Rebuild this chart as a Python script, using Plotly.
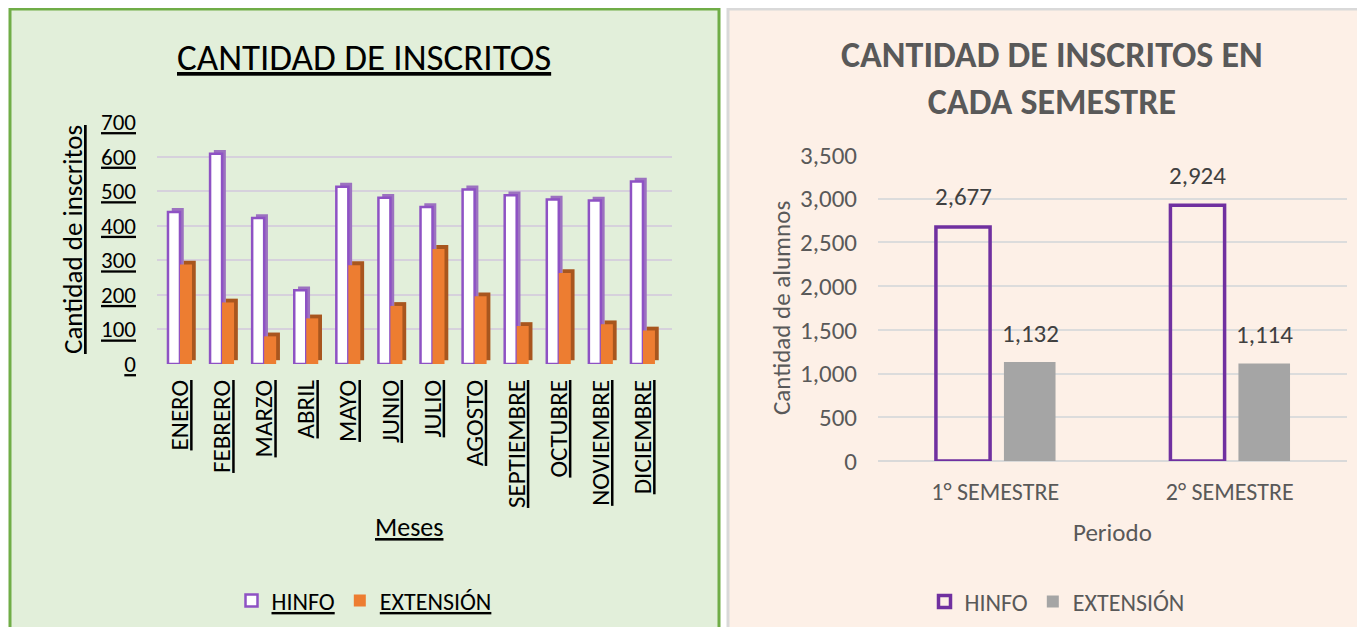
import plotly.graph_objects as go

# datos mensuales (gráfico izquierdo)
meses = ["ENERO", "FEBRERO", "MARZO", "ABRIL", "MAYO", "JUNIO", "JULIO",
         "AGOSTO", "SEPTIEMBRE", "OCTUBRE", "NOVIEMBRE", "DICIEMBRE"]
hinfo_mes = [440, 608, 422, 213, 513, 481, 454, 505, 488, 476, 473, 528]
extension_mes = [288, 178, 80, 132, 286, 168, 333, 196, 110, 263, 115, 97]

# datos por semestre (gráfico derecho)
semestres = ["1° SEMESTRE", "2° SEMESTRE"]
hinfo_sem = [2677, 2924]
extension_sem = [1132, 1114]

# la página deja 8 px de margen: se dibuja en coordenadas de la referencia menos 8
OFF = 8
FW, FH = 1365 - 2 * OFF, 635 - 2 * OFF
FONT = "Carlito, Lato, sans-serif"
PURPLE = "#7030A0"
ORANGE = "#ED7D31"
GREY = "#A5A5A5"
TXT = "#595959"


def px_x(a, b):
    return [(a - OFF) / FW, (b - OFF) / FW]


def px_y(top, bottom):
    return [1 - (bottom - OFF) / FH, 1 - (top - OFF) / FH]


def fx(x):
    return (x - OFF) / FW


def fy(y):
    return 1 - (y - OFF) / FH


fig = go.Figure()

# --- gráfico izquierdo: columnas con efecto 3D ---
bw = 0.285
depth_x = 0.09
depth_y = 11
fig.add_trace(go.Bar(x=meses, y=hinfo_mes, base=depth_y, width=bw, offset=-bw + depth_x,
                     marker=dict(color="#9C72C0", line=dict(width=0)),
                     showlegend=False, hoverinfo="skip", xaxis="x", yaxis="y"))
fig.add_trace(go.Bar(x=meses, y=extension_mes, base=depth_y, width=bw, offset=depth_x,
                     marker=dict(color="#A8561E", line=dict(width=0)),
                     showlegend=False, hoverinfo="skip", xaxis="x", yaxis="y"))
fig.add_trace(go.Bar(x=meses, y=hinfo_mes, width=bw, offset=-bw, name="HINFO",
                     marker=dict(color="white", line=dict(color="#8E52C4", width=2.5)),
                     legend="legend", xaxis="x", yaxis="y"))
fig.add_trace(go.Bar(x=meses, y=extension_mes, width=bw, offset=0, name="EXTENSIÓN",
                     marker=dict(color=ORANGE, line=dict(width=0)),
                     legend="legend", xaxis="x", yaxis="y"))

# --- gráfico derecho ---
fig.add_trace(go.Bar(x=semestres, y=hinfo_sem, width=0.231, offset=-0.253, name="HINFO",
                     marker=dict(color="rgba(0,0,0,0)", line=dict(color=PURPLE, width=3.5)),
                     legend="legend2", xaxis="x2", yaxis="y2"))
fig.add_trace(go.Bar(x=semestres, y=extension_sem, width=0.22, offset=0.037, name="EXTENSIÓN",
                     marker=dict(color=GREY, line=dict(width=0)),
                     legend="legend2", xaxis="x2", yaxis="y2"))

# etiquetas de datos
labels = []
for s, v in zip(semestres, hinfo_sem):
    labels.append(dict(x=s, y=v, xref="x2", yref="y2", text=f"{v:,}", showarrow=False,
                       xshift=-32, yshift=30, font=dict(size=25, color="#404040")))
for s, v in zip(semestres, extension_sem):
    labels.append(dict(x=s, y=v, xref="x2", yref="y2", text=f"{v:,}", showarrow=False,
                       xshift=35, yshift=29, font=dict(size=25, color="#404040")))

fig.update_layout(
    width=FW, height=FH,
    margin=dict(l=0, r=0, t=0, b=0, autoexpand=False),
    paper_bgcolor="white",
    plot_bgcolor="rgba(0,0,0,0)",
    font=dict(family=FONT),
    barmode="overlay",
    xaxis=dict(domain=px_x(157, 672), range=[-0.546, 11.69], anchor="y", tickangle=-90,
               tickfont=dict(size=25, color="black", lineposition="under"),
               showgrid=False, showline=False, ticks="", ticklabelstandoff=10,
               automargin=False),
    yaxis=dict(domain=px_y(122, 364), range=[0, 700], dtick=100, anchor="x",
               gridcolor="#D6D1DC", gridwidth=2, zeroline=False,
               tickfont=dict(size=23, color="black", lineposition="under"),
               ticklabelstandoff=20, automargin=False),
    xaxis2=dict(domain=px_x(878, 1347), range=[-0.5, 1.5], anchor="y2",
                tickfont=dict(size=24, color=TXT), showgrid=False, showline=False, ticks="",
                ticklabelstandoff=14, automargin=False),
    yaxis2=dict(domain=px_y(155, 461), range=[0, 3500], dtick=500, tickformat=",", anchor="x2",
                gridcolor="#DCDCDC", gridwidth=2, zeroline=True, zerolinecolor="#D9D9D9",
                zerolinewidth=2, tickfont=dict(size=25, color=TXT), ticklabelstandoff=20,
                automargin=False),
    legend=dict(orientation="h", x=fx(364), xanchor="center", y=fy(601), yanchor="middle",
                font=dict(size=24, color="black", lineposition="under"),
                bgcolor="rgba(0,0,0,0)", itemwidth=30),
    legend2=dict(orientation="h", x=fx(1057), xanchor="center", y=fy(602), yanchor="middle",
                 font=dict(size=24, color=TXT), bgcolor="rgba(0,0,0,0)", itemwidth=30),
    shapes=[
        dict(type="rect", xref="paper", yref="paper", layer="below",
             x0=fx(10), x1=fx(719), y0=fy(640), y1=fy(9),
             fillcolor="#E2EFDA", line=dict(color="#70AD47", width=3)),
        dict(type="rect", xref="paper", yref="paper", layer="below",
             x0=fx(728), x1=fx(1370), y0=fy(640), y1=fy(9),
             fillcolor="#FDF0E7", line=dict(color="#D9D9D9", width=3)),
    ],
    annotations=labels + [
        dict(text="<u>CANTIDAD DE INSCRITOS</u>", xref="paper", yref="paper",
             x=fx(364), y=fy(57), xanchor="center", yanchor="middle", showarrow=False,
             font=dict(size=37, color="black")),
        dict(text="<b>CANTIDAD DE INSCRITOS EN<br>CADA SEMESTRE</b>", xref="paper", yref="paper",
             x=fx(1052), y=fy(78), xanchor="center", yanchor="middle", showarrow=False,
             font=dict(size=36, color=TXT)),
        dict(text="<u>Cantidad de inscritos</u>", xref="paper", yref="paper",
             x=fx(73), y=fy(240), xanchor="center", yanchor="middle", textangle=-90,
             showarrow=False, font=dict(size=27, color="black")),
        dict(text="<u>Meses</u>", xref="paper", yref="paper",
             x=fx(409), y=fy(527), xanchor="center", yanchor="middle",
             showarrow=False, font=dict(size=26, color="black")),
        dict(text="Cantidad de alumnos", xref="paper", yref="paper",
             x=fx(781), y=fy(308), xanchor="center", yanchor="middle", textangle=-90,
             showarrow=False, font=dict(size=25, color=TXT)),
        dict(text="Periodo", xref="paper", yref="paper",
             x=fx(1112), y=fy(532), xanchor="center", yanchor="middle",
             showarrow=False, font=dict(size=25, color=TXT)),
    ],
)

fig.write_html("out.html")
